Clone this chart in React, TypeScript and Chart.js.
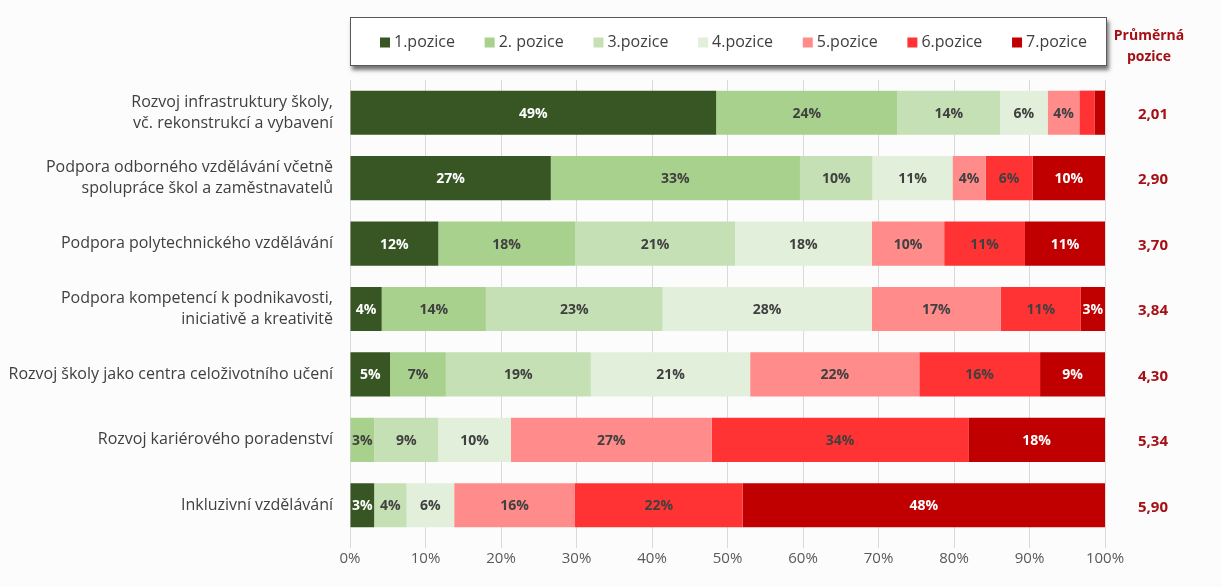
import React, { useEffect, useRef } from "react";
import { Chart, registerables } from "chart.js";

Chart.register(...registerables);

const categories: (string | string[])[] = [
  ["Rozvoj infrastruktury školy,", "vč. rekonstrukcí a vybavení"],
  ["Podpora odborného vzdělávání včetně", "spolupráce škol a zaměstnavatelů"],
  "Podpora polytechnického vzdělávání",
  ["Podpora kompetencí k podnikavosti,", "iniciativě a kreativitě"],
  "Rozvoj školy jako centra celoživotního učení",
  "Rozvoj kariérového poradenství",
  "Inkluzivní vzdělávání",
];

const seriesNames = ["1.pozice", "2. pozice", "3.pozice", "4.pozice", "5.pozice", "6.pozice", "7.pozice"];
const seriesColors = ["#375623", "#a9d18e", "#c5e0b4", "#e2efda", "#ff8b8b", "#ff3333", "#c00000"];
const labelColors = ["#ffffff", "#404040", "#404040", "#404040", "#404040", "#404040", "#ffffff"];

const pos1 = [48.5, 26.6, 11.7, 4.2, 5.3, 0, 3.2];
const pos2 = [24.0, 33.0, 18.1, 13.8, 7.4, 3.2, 0];
const pos3 = [13.6, 9.6, 21.2, 23.4, 19.2, 8.5, 4.3];
const pos4 = [6.3, 10.6, 18.1, 27.7, 21.1, 9.6, 6.3];
const pos5 = [4.2, 4.4, 9.6, 17.1, 22.4, 26.6, 16.0];
const pos6 = [2.0, 6.2, 10.7, 10.6, 16.0, 34.0, 22.2];
const pos7 = [1.4, 9.6, 10.6, 3.2, 8.6, 18.1, 48.0];
const seriesValues = [pos1, pos2, pos3, pos4, pos5, pos6, pos7];

const avgPositions = [2.01, 2.9, 3.7, 3.84, 4.3, 5.34, 5.9];
const avgTitle = ["Průměrná", "pozice"];
const xTicks = [0, 10, 20, 30, 40, 50, 60, 70, 80, 90, 100];

const FONT = "'Open Sans', 'DejaVu Sans', sans-serif";

const overlayPlugin = {
  id: "overlay",
  afterDatasetsDraw(chart: any) {
    const ctx = chart.ctx;
    ctx.save();
    ctx.font = `bold 14px ${FONT}`;
    ctx.textAlign = "center";
    ctx.textBaseline = "middle";
    chart.data.datasets.forEach((ds: any, di: number) => {
      const meta = chart.getDatasetMeta(di);
      meta.data.forEach((el: any, i: number) => {
        const v = ds.data[i];
        if (v < 2.5) return;
        ctx.fillStyle = labelColors[di];
        ctx.fillText(Math.round(v) + "%", (el.x + el.base) / 2, el.y + 1);
      });
    });
    ctx.restore();
  },
  afterDraw(chart: any) {
    const ctx = chart.ctx;
    const area = chart.chartArea;
    ctx.save();
    // legend box
    const bx = area.left, by = 17, bw = area.right - area.left + 2, bh = 49;
    ctx.shadowColor = "rgba(0,0,0,0.55)";
    ctx.shadowBlur = 4;
    ctx.shadowOffsetX = 2;
    ctx.shadowOffsetY = 4;
    ctx.fillStyle = "#ffffff";
    ctx.fillRect(bx, by, bw, bh);
    ctx.shadowColor = "transparent";
    ctx.strokeStyle = "#595959";
    ctx.lineWidth = 1;
    ctx.strokeRect(bx + 0.5, by + 0.5, bw - 1, bh - 1);
    ctx.font = `16px ${FONT}`;
    ctx.textBaseline = "middle";
    ctx.textAlign = "left";
    const box = 10, gap = 4;
    const widths = seriesNames.map((n) => box + gap + ctx.measureText(n).width);
    const total = widths.reduce((a, b) => a + b, 0);
    const spacing = (bw - 50 - total) / (seriesNames.length - 1);
    let x = bx + 30;
    const cy = by + bh / 2 + 1;
    seriesNames.forEach((n, i) => {
      ctx.fillStyle = seriesColors[i];
      ctx.fillRect(x, cy - 5, box, box);
      ctx.fillStyle = "#404040";
      ctx.fillText(n, x + box + gap, cy);
      x += widths[i] + spacing;
    });
    // right column
    const rx = area.right + 48;
    ctx.textAlign = "center";
    ctx.fillStyle = "#a50f15";
    ctx.font = `bold 14px ${FONT}`;
    ctx.fillText(avgTitle[0], rx - 4, 36);
    ctx.fillText(avgTitle[1], rx - 4, 57);
    ctx.font = `bold 15px ${FONT}`;
    const ys = chart.scales.y;
    avgPositions.forEach((v, i) => {
      ctx.fillText(v.toFixed(2).replace(".", ","), rx, ys.getPixelForValue(i) + 2);
    });
    ctx.restore();
  },
};

export default function App() {
  const ref = useRef<HTMLCanvasElement>(null);
  useEffect(() => {
    document.body.style.margin = "0";
    document.body.style.background = "#fcfcfc";
    const chart = new Chart(ref.current!, {
      type: "bar",
      data: {
        labels: categories,
        datasets: seriesNames.map((n, i) => ({
          label: n,
          data: seriesValues[i],
          backgroundColor: seriesColors[i],
          borderWidth: 0,
          barPercentage: 1,
          categoryPercentage: 0.675,
        })),
      },
      options: {
        indexAxis: "y",
        animation: false,
        responsive: false,
        maintainAspectRatio: false,
        layout: { padding: { top: 80, right: 117, left: 0, bottom: 0 } },
        plugins: { legend: { display: false }, tooltip: { enabled: false } },
        scales: {
          x: {
            stacked: true,
            min: 0,
            max: 100,
            afterBuildTicks: (s: any) => {
              s.ticks = xTicks.map((v) => ({ value: v }));
            },
            afterFit: (s: any) => {
              s.height = 49;
            },
            grid: { color: "#d9d9d9", drawTicks: true, tickLength: 10, tickColor: "#d9d9d9" },
            border: { display: false },
            ticks: {
              color: "#595959",
              font: { family: FONT, size: 15 },
              padding: 2,
              callback: (v: any) => v + "%",
            },
          },
          y: {
            stacked: true,
            afterFit: (s: any) => {
              s.width = 350;
            },
            grid: { display: false },
            border: { display: false },
            ticks: {
              color: "#404040",
              font: { family: FONT, size: 16, lineHeight: 1.3 },
              padding: 9,
            },
          },
        },
      },
      plugins: [overlayPlugin],
    } as any);
    return () => chart.destroy();
  }, []);
  return (
    <div style={{ width: 1222, height: 587, position: "relative" }}>
      <canvas ref={ref} width={1222} height={587} style={{ display: "block" }} />
    </div>
  );
}
